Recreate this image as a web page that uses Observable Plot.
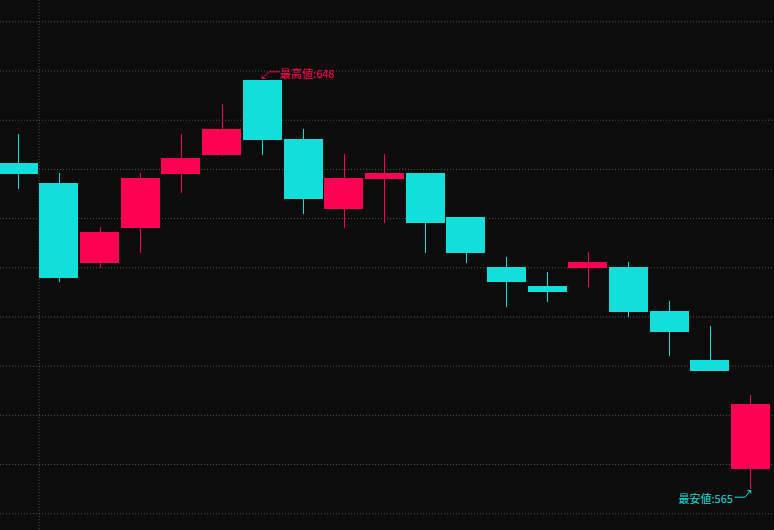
<!DOCTYPE html>
<html>
<head>
<meta charset="utf-8">
<script src="https://cdn.jsdelivr.net/npm/d3@7"></script>
<script src="https://cdn.jsdelivr.net/npm/@observablehq/plot@0.6"></script>
<style>
  html, body { margin: 0; padding: 0; background: #0c0c0c; overflow: hidden; }
  #chart svg { display: block; }
</style>
</head>
<body>
<div id="chart"></div>
<script>
// Daily candles (index order, oldest first)
const days = d3.range(19);
const open  = [631.2, 627.1, 610.9, 618.0, 629.0, 632.8, 648.0, 636.1, 621.8, 627.9, 629.2, 620.2, 610.1, 606.2, 609.9, 610.1, 601.1, 591.2, 569.0];
const high  = [637.1, 629.2, 618.2, 629.2, 637.1, 643.2, 648.0, 638.1, 633.0, 633.0, 629.2, 620.2, 612.1, 609.0, 613.1, 611.1, 603.2, 598.1, 584.0];
const low   = [625.9, 607.0, 609.9, 612.9, 625.0, 632.6, 632.8, 620.8, 618.0, 619.0, 612.9, 610.9, 601.9, 603.0, 606.0, 599.9, 592.0, 588.9, 565.0];
const close = [629.0, 607.8, 617.2, 628.2, 632.2, 638.1, 635.9, 623.9, 628.2, 629.2, 619.0, 612.9, 607.0, 605.0, 611.1, 601.0, 596.9, 588.9, 582.2];
const gridValues = d3.range(560, 661, 10);
const periodBreaks = [0.5];
const highLabel = "最高値";
const lowLabel = "最安値";

const W = 774, H = 530;
const xDomain = [-0.45, 18.58];
const yDomain = [556.6, 664.33];
const pxX = W / (xDomain[1] - xDomain[0]);
const pxY = H / (yDomain[1] - yDomain[0]);

const UP = "#ff0055", DOWN = "#12deda";
const candles = days.map(i => ({i, o: open[i], h: high[i], l: low[i], c: close[i]}));
const colorOf = d => d.c >= d.o ? UP : DOWN;
const half = 0.4795;

const hiIdx = d3.maxIndex(high), loIdx = d3.minIndex(low);
const hi = {i: hiIdx, v: high[hiIdx]};
const lo = {i: loIdx, v: low[loIdx]};
// annotation leader lines (pixel offsets from anchor converted to data units)
const off = (a, dxp, dyp) => ({x: a.i + dxp / pxX, y: a.v - dyp / pxY});
const hiLine = [off(hi, 16, -9), off(hi, 6, -9), off(hi, 0, -3)];
const loLine = [off(lo, -16, 8), off(lo, -6, 8), off(lo, -1, 2)];

const chart = Plot.plot({
  width: W, height: H,
  margin: 0,
  style: {background: "#0c0c0c", fontFamily: "'Noto Sans CJK JP', sans-serif"},
  x: {type: "linear", domain: xDomain, axis: null},
  y: {domain: yDomain, axis: null},
  marks: [
    Plot.ruleY(gridValues, {stroke: "#555", strokeDasharray: "1 2", strokeWidth: 1}),
    Plot.ruleX(periodBreaks, {stroke: "#555", strokeDasharray: "1 2", strokeWidth: 1}),
    Plot.ruleX(candles, {x: "i", y1: "l", y2: "h", stroke: colorOf, strokeWidth: 1, shapeRendering: "crispEdges"}),
    Plot.rect(candles, {x1: d => d.i - half, x2: d => d.i + half, y1: "o", y2: "c", fill: colorOf, shapeRendering: "crispEdges"}),
    Plot.line(hiLine, {x: "x", y: "y", stroke: UP, strokeWidth: 1, markerEnd: "arrow"}),
    Plot.line(loLine, {x: "x", y: "y", stroke: DOWN, strokeWidth: 1, markerEnd: "arrow"}),
    Plot.text([hi], {x: "i", y: "v", text: d => `${highLabel}:${Math.round(d.v)}`, fill: UP, fontSize: 11, textAnchor: "start", dx: 17, dy: -6}),
    Plot.text([lo], {x: "i", y: "v", text: d => `${lowLabel}:${Math.round(d.v)}`, fill: DOWN, fontSize: 11, textAnchor: "end", dx: -18, dy: 10})
  ]
});
document.getElementById("chart").appendChild(chart);
</script>
</body>
</html>
